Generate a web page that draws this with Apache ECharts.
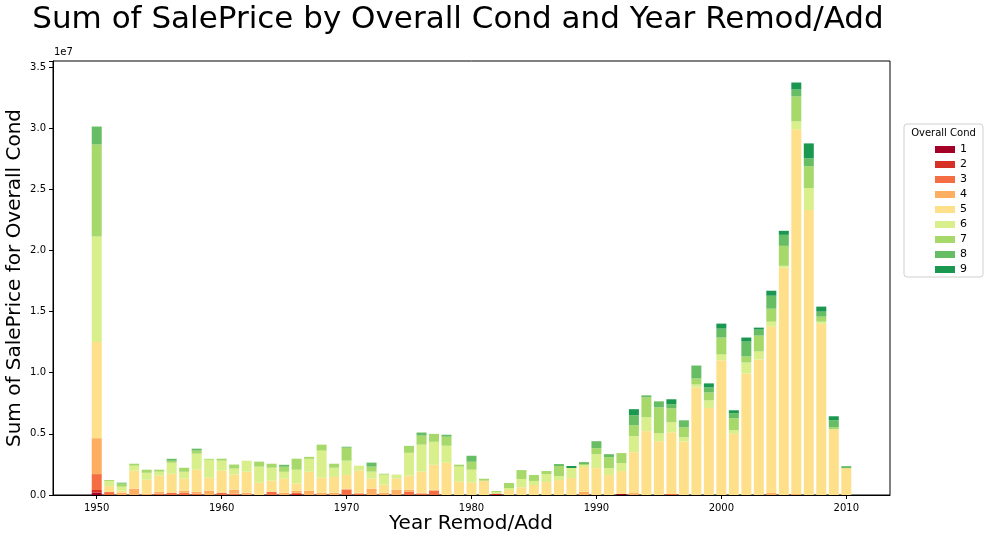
<!DOCTYPE html>
<html>
<head>
<meta charset="utf-8">
<script src="https://cdn.jsdelivr.net/npm/echarts@6/dist/echarts.min.js"></script>
<style>
html,body{margin:0;padding:0;background:#fff;}
#chart{width:990px;height:542px;}
</style>
</head>
<body>
<div id="chart"></div>
<script>
// Years (categories)
const years = [
  1950,1951,1952,1953,1954,1955,1956,1957,1958,1959,
  1960,1961,1962,1963,1964,1965,1966,1967,1968,1969,
  1970,1971,1972,1973,1974,1975,1976,1977,1978,1979,
  1980,1981,1982,1983,1984,1985,1986,1987,1988,1989,
  1990,1991,1992,1993,1994,1995,1996,1997,1998,1999,
  2000,2001,2002,2003,2004,2005,2006,2007,2008,2009,
  2010
];
// Sum of SalePrice per Overall Cond, in millions of dollars
const cond1 = [
  0.19,0,0,0,0,0,0,0,0,0,
  0,0,0,0,0,0,0,0,0,0,
  0,0,0,0,0,0,0,0,0,0,
  0,0,0,0,0,0,0,0,0,0,
  0,0,0.08,0,0,0,0,0,0,0,
  0,0,0,0,0,0,0,0,0,0,
  0
];
const cond2 = [
  0.22,0,0,0,0,0,0,0,0,0,
  0,0,0,0,0,0,0.08,0,0,0,
  0,0,0,0,0,0,0,0,0,0,
  0,0,0.11,0,0,0,0,0,0,0,
  0,0,0,0,0,0,0,0,0,0,
  0,0,0,0,0,0,0,0,0,0,
  0
];
const cond3 = [
  1.30,0.24,0,0,0,0.11,0.19,0.19,0.11,0,
  0.19,0.11,0,0,0.27,0,0.11,0,0,0,
  0.44,0.11,0,0,0,0.27,0.11,0.35,0,0,
  0,0,0,0,0,0,0,0,0,0,
  0,0,0,0,0,0,0.08,0,0,0,
  0,0,0,0,0,0,0,0,0,0,
  0
];
const cond4 = [
  2.94,0,0.19,0.52,0.11,0.16,0,0.16,0.16,0.35,
  0,0.33,0.19,0,0,0.19,0.16,0.35,0.19,0.19,
  0.08,0.08,0.52,0.19,0.44,0.16,0.08,0.08,0,0,
  0,0,0,0,0,0,0,0,0,0.25,
  0,0,0,0.16,0,0,0,0,0,0,
  0,0,0,0,0.16,0,0.08,0,0,0,
  0
];
const cond5 = [
  7.87,0.49,0.16,1.47,1.14,1.31,1.55,0.98,1.80,1.06,
  1.80,1.23,1.72,1.01,0.90,1.14,0.60,1.55,1.23,1.28,
  1.12,1.80,0.82,0.65,0.90,1.17,1.72,2.04,2.64,1.09,
  1.01,1.17,0,0.41,0.63,0.82,1.06,1.22,1.39,2.04,
  2.20,1.63,1.88,3.34,5.22,4.40,5.05,4.37,8.80,7.12,
  11.03,5.00,9.94,11.09,13.64,18.61,29.83,23.31,14.02,5.38,
  2.20
];
const cond6 = [
  8.63,0.41,0.33,0.41,0.57,0.33,0.90,0.57,1.31,1.47,
  0.82,0.49,0.90,1.31,1.06,0.57,1.12,1.06,2.21,0.76,
  1.17,0.41,0.57,0.82,0.33,1.85,2.21,1.88,1.39,1.23,
  1.06,0,0.14,0.16,0.68,0.33,0.65,0.33,0.82,0.16,
  1.14,0.57,0.65,1.31,1.14,0.65,0.82,0.35,0.24,0.62,
  0.46,0.30,0.90,0.65,0.38,0.14,0.65,1.79,0.16,0,
  0
];
const cond7 = [
  7.52,0.08,0.25,0.16,0.25,0.16,0.16,0.33,0.25,0.08,
  0.16,0.33,0,0.41,0.33,0.41,0.90,0.16,0.49,0.33,
  1.06,0,0.41,0.08,0,0.57,0.74,0.65,0.74,0.16,
  0.65,0.16,0.08,0.41,0.73,0.49,0.25,0.82,0,0.08,
  0.49,0.90,0.82,0.90,1.63,2.12,1.14,0.82,0.49,0.65,
  1.39,0.98,0.49,1.30,1.06,1.63,2.04,1.79,0.41,0.16,
  0
];
const cond8 = [
  1.47,0,0.08,0,0,0,0.16,0,0.16,0,
  0,0,0,0,0,0.16,0,0,0,0,
  0.08,0,0.33,0,0,0,0.25,0,0.16,0,
  0.49,0,0,0,0,0,0,0.16,0,0.16,
  0.57,0.24,0,0.82,0.16,0.49,0.33,0.57,1.06,0.41,
  0.73,0.41,1.22,0.49,1.06,0.90,0.57,0.65,0.41,0.57,
  0.16
];
const cond9 = [
  0,0,0,0,0,0,0,0,0,0,
  0,0,0,0,0,0,0,0,0,0,
  0,0,0,0,0,0,0,0,0,0,
  0,0,0,0,0,0,0,0,0.16,0,
  0,0,0,0.49,0,0,0.41,0,0,0.33,
  0.41,0.24,0.33,0.16,0.41,0.33,0.57,1.22,0.41,0.33,
  0
];
const condNames = ['1','2','3','4','5','6','7','8','9'];
const condValues = [cond1,cond2,cond3,cond4,cond5,cond6,cond7,cond8,cond9];
const condColors = ['#a50026','#d73027','#f46d43','#fdae61','#fee08b','#d9ef8b','#a6d96a','#66bd63','#1a9850'];
const yTicks = [0,5e6,10e6,15e6,20e6,25e6,30e6,35e6];

// axis padding (matplotlib auto margins): 3 empty slots each side
const PAD = 3;
const cats = [];
for (let i = PAD; i > 0; i--) cats.push(String(years[0] - i));
years.forEach(y => cats.push(String(y)));
for (let i = 1; i <= PAD; i++) cats.push(String(years[years.length-1] + i));

const FONT = 'DejaVu Sans';
const series = condNames.map((n, k) => {
  const d = [];
  for (let i = 0; i < PAD; i++) d.push(null);
  condValues[k].forEach(v => d.push(v * 1e6));
  for (let i = 0; i < PAD; i++) d.push(null);
  return {
    name: n, type: 'bar', stack: 'total', data: d,
    barWidth: '80%',
    itemStyle: { color: condColors[k] },
    emphasis: { disabled: true }
  };
});

const isLabelYear = (idx, val) => {
  const y = Number(val);
  return y >= years[0] && y <= years[years.length-1] && y % 10 === 0;
};

const chart = echarts.init(document.getElementById('chart'), null, {renderer:'canvas'});
chart.setOption({
  animation: false,
  backgroundColor: '#fff',
  textStyle: { fontFamily: FONT },
  grid: { left: 53, right: 100, top: 61, bottom: 47, show: true, borderColor: '#000', borderWidth: 1, backgroundColor: '#fff' },
  xAxis: {
    type: 'category', data: cats, boundaryGap: true,
    axisLine: { lineStyle: { color: '#000', width: 1 } },
    axisTick: { show: true, alignWithLabel: true, interval: isLabelYear, length: 4, lineStyle: { color: '#000' } },
    axisLabel: { interval: isLabelYear, color: '#000', fontSize: 10, margin: 8, fontFamily: FONT },
    splitLine: { show: false }
  },
  yAxis: {
    type: 'value', min: 0, max: 35.5e6, interval: 5e6,
    axisLine: { show: true, lineStyle: { color: '#000', width: 1 } },
    axisTick: { show: true, length: 4, lineStyle: { color: '#000' } },
    axisLabel: { color: '#000', fontSize: 10, margin: 7, fontFamily: FONT,
      formatter: v => (yTicks.indexOf(v) >= 0 ? (v / 1e7).toFixed(1) : '') },
    splitLine: { show: false }
  },
  legend: {
    orient: 'vertical', left: 930, top: 137,
    icon: 'rect', itemWidth: 20, itemHeight: 7, itemGap: 0,
    textStyle: { fontSize: 11, color: '#000', lineHeight: 15, fontFamily: FONT },
    data: condNames,
    selectedMode: false
  },
  graphic: [
    { type: 'text', x: 458, y: 20, style: { text: 'Sum of SalePrice by Overall Cond and Year Remod/Add', font: '31px "DejaVu Sans"', fill: '#000', align: 'center', verticalAlign: 'middle' } },
    { type: 'text', x: 471, y: 524, style: { text: 'Year Remod/Add', font: '20px "DejaVu Sans"', fill: '#000', align: 'center', verticalAlign: 'middle' } },
    { type: 'text', x: 15, y: 278, rotation: Math.PI / 2, style: { text: 'Sum of SalePrice for Overall Cond', font: '20px "DejaVu Sans"', fill: '#000', align: 'center', verticalAlign: 'middle' } },
    { type: 'text', x: 54, y: 52, style: { text: '1e7', font: '10px "DejaVu Sans"', fill: '#000', align: 'left', verticalAlign: 'middle' } },
    { type: 'rect', shape: { x: 904, y: 124, width: 79, height: 153, r: 3 }, style: { fill: 'rgba(255,255,255,0.8)', stroke: '#d0d0d0', lineWidth: 1 }, z: -1 },
    { type: 'text', x: 943.5, y: 133, style: { text: 'Overall Cond', font: '10px "DejaVu Sans"', fill: '#000', align: 'center', verticalAlign: 'middle' } }
  ],
  series: series
});
</script>
</body>
</html>
